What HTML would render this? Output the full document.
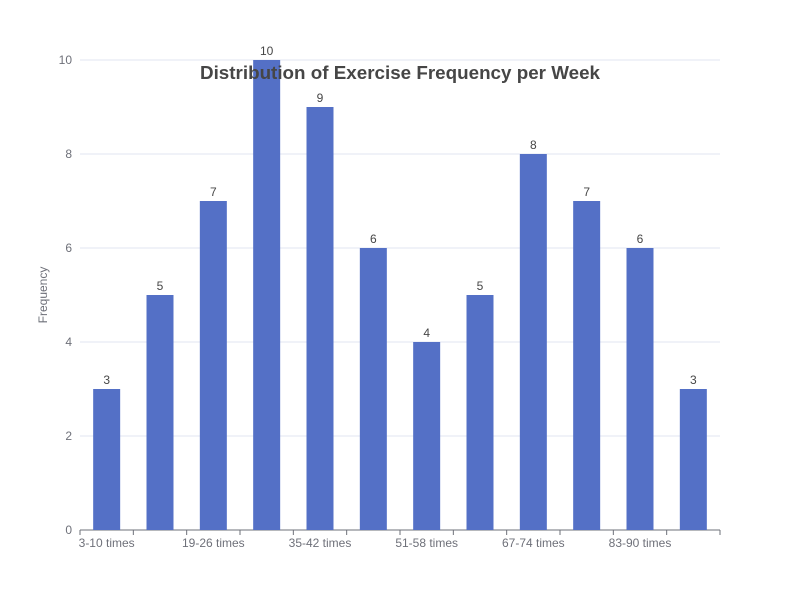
<!DOCTYPE html>
<html><head><meta charset="utf-8">
<style>
html,body{margin:0;padding:0;background:#fff;}
svg{display:block;font-family:"Liberation Sans",sans-serif;}
</style></head>
<body>
<svg id="chart" width="800" height="600">
<text transform="translate(47,295) rotate(-90)" text-anchor="middle" font-size="12" fill="#6e7079">Frequency</text>
<g id="grid"></g><g id="bars"></g><g id="xaxis"></g>
<text x="400" y="79" text-anchor="middle" font-size="18" font-weight="bold" fill="#464646" textLength="400" lengthAdjust="spacingAndGlyphs">Distribution of Exercise Frequency per Week</text>
</svg>
<script>
const categories=["3-10 times","11-18 times","19-26 times","27-34 times","35-42 times","43-50 times","51-58 times","59-66 times","67-74 times","75-82 times","83-90 times","91-98 times"];
const values=[3,5,7,10,9,6,4,5,8,7,6,3];
const yTicks=[0,2,4,6,8,10];
const NS="http://www.w3.org/2000/svg";
const L=80,R=720,T=60,B=530,yMax=10;
const y=v=>B-(v/yMax)*(B-T);
const bw=(R-L)/categories.length;
const x=i=>L+bw*i;
function mk(tag,attrs,parent,text){const e=document.createElementNS(NS,tag);for(const k in attrs)e.setAttribute(k,attrs[k]);if(text!==undefined)e.textContent=text;parent.appendChild(e);return e;}
const grid=document.getElementById('grid'),bars=document.getElementById('bars'),xa=document.getElementById('xaxis');
yTicks.forEach(t=>{
 const g=mk('line',{x1:L,x2:R,y1:y(t),y2:y(t),stroke:t===0?'#6e7079':'#e0e6f1','stroke-width':1},grid);
 
 
 const lb=mk('text',{x:L-8,y:y(t)+4,'text-anchor':'end','font-size':12,fill:'#6e7079'},grid,String(t));
 
 
});
for(let i=0;i<=categories.length;i++){
 const tk=mk('line',{x1:x(i),x2:x(i),y1:B,y2:B+5,stroke:'#6e7079'},xa);
 
 
}
values.forEach((v,i)=>{
 const cx=x(i)+bw/2,w=27;
 const r=mk('rect',{x:cx-w/2,y:y(v),width:w,height:B-y(v),fill:'#5470c6'},bars);
 
 
 const t=mk('text',{x:cx,y:y(v)-5,'text-anchor':'middle','font-size':12,fill:'#464646'},bars,String(v));
 
 
 if(i%2===0){
  const xl=mk('text',{x:cx,y:B+17,'text-anchor':'middle','font-size':12,fill:'#6e7079'},xa,categories[i]);
  
  
 }
});
</script>
</body></html>
